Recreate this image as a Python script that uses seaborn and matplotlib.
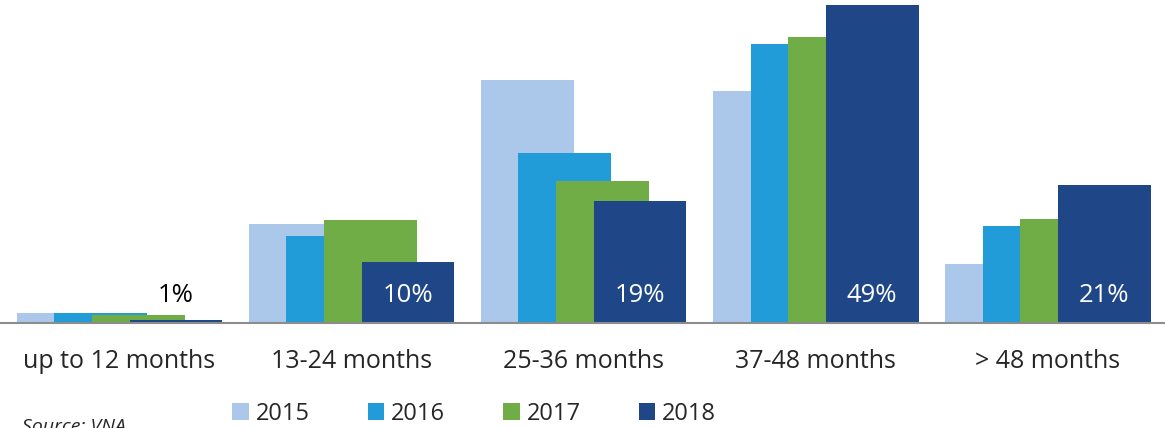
import numpy as np
import pandas as pd
import matplotlib.pyplot as plt
import seaborn as sns

categories = ['up to 12 months', '13-24 months', '25-36 months', '37-48 months', '> 48 months']
years = ['2015', '2016', '2017', '2018']
v2015 = [1.5, 15.2, 37.4, 35.7, 9.1]
v2016 = [1.5, 13.4, 26.2, 42.9, 14.9]
v2017 = [1.2, 15.8, 21.8, 44.0, 16.0]
v2018 = [0.5, 9.4, 18.8, 49.0, 21.3]
labels2018 = ['1%', '10%', '19%', '49%', '21%']

colors = ['#ABC8EA', '#229BD9', '#70AD47', '#1F4788']
offsets = [-0.243, -0.081, 0.081, 0.243]

sns.set_style('white')
plt.rcParams['font.family'] = ['Open Sans', 'DejaVu Sans']

fig = plt.figure(figsize=(11.65, 4.28), dpi=100)
ax = fig.add_axes([0.001, 0.2453, 1, 0.7547])

series = [v2015, v2016, v2017, v2018]
for yr, vals, col, off in zip(years, series, colors, offsets):
    df = pd.DataFrame({'x': np.arange(len(categories)) + off, 'y': vals})
    sns.barplot(data=df, x='x', y='y', native_scale=True, width=0.4, color=col,
                saturation=1, errorbar=None, label=yr, linewidth=0, ax=ax)

for i, lab in enumerate(labels2018):
    ax.text(i + offsets[3], 4.2, lab, ha='center', va='center', fontsize=18.5,
            color='black' if i == 0 else 'white')

ax.set_xlim(-0.51, 4.51)
ax.set_ylim(0, 49.75)
ax.set_xticks(np.arange(len(categories)))
ax.set_xticklabels(categories, fontsize=18)
ax.tick_params(axis='x', length=0, pad=19)
ax.set_yticks([])
ax.set_xlabel('')
ax.set_ylabel('')
for s in ['top', 'left', 'right']:
    ax.spines[s].set_visible(False)
ax.spines['bottom'].set_color('#8c8c8c')
ax.spines['bottom'].set_linewidth(1.5)

ax.legend(ncol=4, loc='center', bbox_to_anchor=(0.407, 0.033), bbox_transform=fig.transFigure,
          frameon=False, fontsize=17, handlelength=0.7, handleheight=0.7,
          handletextpad=0.3, columnspacing=2.45, borderaxespad=0)

fig.text(0.019, 0.023, 'Source: VNA', style='italic', fontsize=14, va='top', ha='left')

fig.savefig('out.png', dpi=100)
